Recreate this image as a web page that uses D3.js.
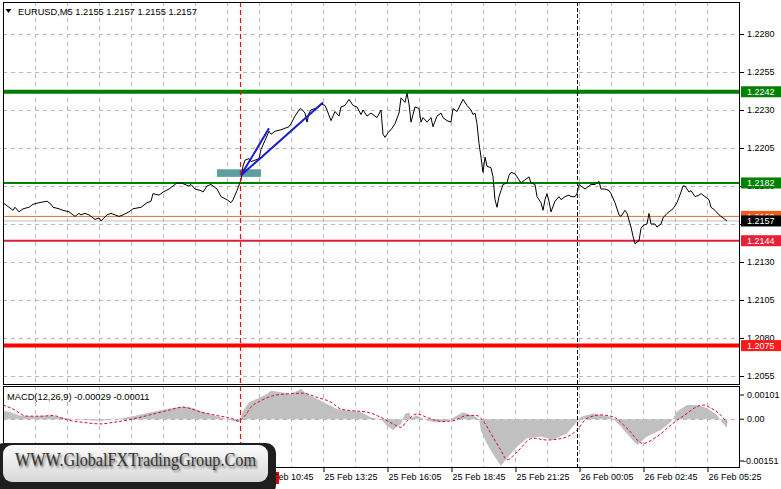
<!DOCTYPE html>
<html><head><meta charset="utf-8">
<script src="https://cdn.jsdelivr.net/npm/d3@7"></script>
<style>
body{margin:0;background:#fff}
svg{display:block}
</style>
</head><body>
<svg id="c" width="781" height="489"></svg>
<script>
// ---------------- DATA ----------------
const symbolTitle = "EURUSD,M5  1.2155 1.2157 1.2155 1.2157";
const macdTitle = "MACD(12,26,9) -0.00029 -0.00011";
const watermarkText = "WWW.GlobalFXTradingGroup.Com";

// times are minutes since 25 Feb 00:00 (M5 bars)
const priceTimes = [5,30,35,45,55,70,80,95,115,125,130,145,155,170,175,185,195,200,210,220,235,245,250,265,275,285,295,305,320,330,350,365,375,380,395,405,420,430,440,450,460,470,475,485,500,505,515,525,530,540,550,565,575,580,590,600,605,610,620,625,635,645,650,660,670,675,685,700,710,720,725,735,745,750,760,765,770,775,785,795,800,810,815,825,835,845,850,860,870,880,890,900,905,915,925,930,940,950,955,960,970,975,985,995,1000,1010,1015,1020,1025,1035,1045,1050,1055,1065,1075,1080,1090,1100,1105,1115,1125,1130,1140,1155,1165,1175,1180,1185,1190,1195,1200,1205,1210,1215,1225,1230,1235,1240,1245,1250,1255,1265,1270,1275,1285,1295,1300,1305,1315,1320,1325,1335,1340,1350,1355,1360,1365,1370,1375,1385,1395,1400,1410,1420,1425,1435,1440,1445,1450,1460,1470,1475,1485,1495,1500,1510,1520,1525,1535,1545,1550,1560,1565,1575,1580,1585,1595,1600,1605,1615,1620,1625,1635,1640,1650,1655,1665,1675,1680,1690,1700,1705,1710,1720,1725,1735,1745,1750,1760,1770,1775,1785,1795,1800,1815];
const priceValues = [1.2169,1.2164,1.2166,1.2163,1.2165,1.2166,1.2168,1.2169,1.2170,1.2168,1.2166,1.2165,1.2164,1.2163,1.2162,1.2160,1.2162,1.2161,1.2162,1.2161,1.2158,1.2159,1.2157,1.2161,1.2162,1.2161,1.2160,1.2161,1.2163,1.2165,1.2166,1.2169,1.2170,1.2175,1.2174,1.2176,1.2178,1.2180,1.2182,1.2182,1.2181,1.2180,1.2181,1.2178,1.2177,1.2176,1.2180,1.2181,1.2180,1.2178,1.2173,1.2171,1.2169,1.2171,1.2177,1.2184,1.2193,1.2197,1.2198,1.2196,1.2197,1.2198,1.2204,1.2210,1.2216,1.2214,1.2216,1.2217,1.2218,1.2219,1.2221,1.2226,1.2230,1.2231,1.2228,1.2222,1.2228,1.2230,1.2231,1.2232,1.2234,1.2233,1.2230,1.2223,1.2229,1.2226,1.2232,1.2233,1.2237,1.2233,1.2232,1.2227,1.2230,1.2226,1.2228,1.2227,1.2225,1.2230,1.2214,1.2212,1.2216,1.2217,1.2221,1.2228,1.2238,1.2235,1.2241,1.2234,1.2222,1.2232,1.2231,1.2222,1.2225,1.2222,1.2225,1.2219,1.2226,1.2228,1.2225,1.2223,1.2222,1.2231,1.2229,1.2237,1.2233,1.2230,1.2227,1.2228,1.2221,1.2208,1.2199,1.2189,1.2199,1.2193,1.2192,1.2186,1.2171,1.2166,1.2173,1.2177,1.2181,1.2182,1.2187,1.2189,1.2188,1.2184,1.2182,1.2183,1.2185,1.2186,1.2182,1.2181,1.2173,1.2169,1.2164,1.2171,1.2175,1.2170,1.2163,1.2170,1.2173,1.2171,1.2173,1.2174,1.2173,1.2173,1.2175,1.2181,1.2180,1.2178,1.2180,1.2181,1.2181,1.2183,1.2178,1.2178,1.2177,1.2175,1.2169,1.2161,1.2160,1.2164,1.2162,1.2153,1.2147,1.2142,1.2144,1.2152,1.2154,1.2155,1.2162,1.2155,1.2155,1.2153,1.2155,1.2159,1.2162,1.2164,1.2165,1.2169,1.2176,1.2180,1.2180,1.2176,1.2177,1.2173,1.2174,1.2175,1.2173,1.2171,1.2166,1.2164,1.2161,1.2160,1.2157];

const histTimes = [5,25,45,80,125,165,205,250,290,330,375,415,455,480,515,550,580,595,605,620,640,665,675,700,725,750,765,790,815,840,865,900,925,950,965,980,1000,1010,1020,1025,1040,1065,1090,1115,1140,1155,1180,1195,1200,1215,1230,1245,1250,1265,1290,1315,1350,1380,1415,1440,1450,1480,1500,1525,1550,1575,1590,1615,1650,1675,1690,1715,1740,1765,1790,1805,1815];
const histValues = [0.00028,0.00023,0.00012,0.00010,0.00012,0.00003,-0.00002,-0.00005,0.00001,0.00010,0.00023,0.00033,0.00041,0.00036,0.00019,0.00006,-0.00005,-0.00010,0.00027,0.00055,0.00066,0.00082,0.00092,0.00087,0.00082,0.00098,0.00082,0.00066,0.00049,0.00033,0.00028,0.00023,0.00006,0.00000,-0.00021,-0.00035,-0.00015,0.00017,0.00023,0.00006,0.00012,-0.00005,-0.00010,-0.00007,0.00012,0.00023,0.00012,0.00001,-0.00037,-0.00080,-0.00112,-0.00142,-0.00150,-0.00126,-0.00089,-0.00061,-0.00056,-0.00067,-0.00045,-0.00008,0.00008,0.00019,0.00014,0.00008,-0.00024,-0.00061,-0.00083,-0.00056,-0.00035,-0.00008,0.00025,0.00046,0.00046,0.00036,0.00014,-0.00013,-0.00029];

const signalTimes = [5,30,65,100,130,165,205,250,280,330,375,415,455,500,540,580,595,610,625,650,680,715,755,790,825,850,875,915,950,980,1000,1015,1040,1065,1100,1130,1165,1190,1205,1230,1250,1265,1290,1330,1365,1405,1440,1465,1500,1530,1565,1605,1640,1680,1715,1740,1755,1775,1795,1815];
const signalValues = [0.00046,0.00033,0.00010,0.00010,0.00012,-0.00002,-0.00010,-0.00015,-0.00010,0.00001,0.00015,0.00028,0.00039,0.00023,0.00012,0.00001,-0.00006,0.00012,0.00039,0.00060,0.00076,0.00082,0.00084,0.00071,0.00055,0.00033,0.00028,0.00023,0.00006,-0.00015,-0.00026,-0.00005,0.00017,0.00006,-0.00007,-0.00005,0.00012,0.00012,-0.00005,-0.00058,-0.00101,-0.00131,-0.00105,-0.00061,-0.00067,-0.00061,-0.00035,0.00003,0.00014,0.00008,-0.00029,-0.00078,-0.00056,-0.00013,0.00019,0.00041,0.00046,0.00036,0.00019,-0.00011];

const priceTicks = [1.2055,1.2080,1.2105,1.2130,1.2155,1.2180,1.2205,1.2230,1.2255,1.2280];
const priceTickLabels = ["1.2055","1.2080","1.2105","1.2130","","1.2180","1.2205","1.2230","1.2255","1.2280"];
const macdTicks = [0.00101,0,-0.00151];
const macdTickLabels = ["0.00101","0.00","-0.00151"];
const timeTicks = [645,805,965,1125,1285,1445,1605,1765];
const timeTickLabels = ["25 Feb 10:45","25 Feb 13:25","25 Feb 16:05","25 Feb 18:45","25 Feb 21:25","26 Feb 00:05","26 Feb 02:45","26 Feb 05:25"];

const levelValues = [1.2242,1.2182,1.2160,1.2157,1.2144,1.2075];
const levelLabels = ["1.2242","1.2182","1.2160","1.2157","1.2144","1.2075"];

const zoneTimes = [540,650];      // rectangle object
const zonePrices = [1.2186,1.2191];
const arrowTimes = [670,600,805]; // blue trend lines
const arrowPrices = [1.2218,1.2187,1.2235];
const redLineTime = 600;          // 25 Feb 10:00
const daySepTime = 1440;          // 26 Feb 00:00

// ---------------- STYLES ----------------
const levelColors = ["#008000","#008000","#ee6a22","#bcbccc","#d4203a","#ff0000"];
const levelWidths = [4,2,1,1,2,4];
const boxColors = ["#008000","#008000","#f05a1e","#000000","#e8203a","#ff1a1a"];
const SANS = "'Liberation Sans', Arial, sans-serif";
const SERIF = "'Liberation Serif', 'Times New Roman', serif";

// ---------------- DRAW ----------------
const svg = d3.select("#c");
const L = 3, R = 740, mainTop = 2, mainBot = 384, macdTop = 386, macdBot = 468;
const x = d3.scaleLinear().domain([5,1845]).range([3,739]);
const y = d3.scaleLinear().domain([1.2055,1.2280]).range([376,34]);
const ym = d3.scaleLinear().domain([-0.00151,0.00101]).range([466,388]);

const defs = svg.append("defs");
defs.append("clipPath").attr("id","cm").append("rect").attr("x",L).attr("y",mainTop).attr("width",R-L).attr("height",mainBot-mainTop);
defs.append("clipPath").attr("id","cd").append("rect").attr("x",L).attr("y",macdTop).attr("width",R-L).attr("height",macdBot-macdTop);
const grad = defs.append("linearGradient").attr("id","wg").attr("x1",0).attr("y1",0).attr("x2",0).attr("y2",1);
grad.append("stop").attr("offset","0%").attr("stop-color","#fbfbfb");
grad.append("stop").attr("offset","100%").attr("stop-color","#d8d8d8");
const blur = defs.append("filter").attr("id","tb").attr("x","-5%").attr("y","-30%").attr("width","110%").attr("height","160%");
blur.append("feGaussianBlur").attr("stdDeviation",1.3);

const gridColor = "#b8b8b8", gridDash = "4,4";
const vGrid = d3.range(85, 1845, 80);

// main panel
const gm = svg.append("g").attr("clip-path","url(#cm)");
gm.selectAll(".vg").data(vGrid).join("line")
  .attr("x1",d=>x(d)+0.5).attr("x2",d=>x(d)+0.5).attr("y1",mainTop).attr("y2",mainBot)
  .attr("stroke",gridColor).attr("stroke-dasharray",gridDash);
gm.selectAll(".hg").data(priceTicks).join("line")
  .attr("x1",L).attr("x2",R).attr("y1",d=>Math.round(y(d))+0.5).attr("y2",d=>Math.round(y(d))+0.5)
  .attr("stroke",gridColor).attr("stroke-dasharray",gridDash);

// macd panel grid
const gd = svg.append("g").attr("clip-path","url(#cd)");
gd.selectAll(".vg").data(vGrid).join("line")
  .attr("x1",d=>x(d)+0.5).attr("x2",d=>x(d)+0.5).attr("y1",macdTop).attr("y2",macdBot)
  .attr("stroke",gridColor).attr("stroke-dasharray",gridDash);

// histogram
const hist = histTimes.map((t,i)=>[t,histValues[i]]);
gd.append("path").datum(hist)
  .attr("d", d3.area().x(d=>x(d[0])).y0(ym(0)).y1(d=>ym(d[1])))
  .attr("fill","#c0c0c0");
gd.append("line").attr("x1",L).attr("x2",R).attr("y1",Math.round(ym(0))+0.5).attr("y2",Math.round(ym(0))+0.5)
  .attr("stroke",gridColor).attr("stroke-dasharray",gridDash);
const sig = signalTimes.map((t,i)=>[t,signalValues[i]]);
gd.append("path").datum(sig)
  .attr("d", d3.line().x(d=>x(d[0])).y(d=>ym(d[1])).curve(d3.curveMonotoneX))
  .attr("fill","none").attr("stroke","#d0102a").attr("stroke-width",1).attr("stroke-dasharray","3,2");

// horizontal level lines
gm.selectAll(".lvl").data(levelValues).join("line")
  .attr("x1",L).attr("x2",R).attr("y1",d=>y(d)).attr("y2",d=>y(d))
  .attr("stroke",(d,i)=>levelColors[i]).attr("stroke-width",(d,i)=>levelWidths[i]);

// zone rectangle
gm.append("rect")
  .attr("x",x(zoneTimes[0])).attr("width",x(zoneTimes[1])-x(zoneTimes[0]))
  .attr("y",y(zonePrices[1])).attr("height",y(zonePrices[0])-y(zonePrices[1]))
  .attr("fill","#5f9ea0");

// vertical lines
svg.append("line").attr("x1",Math.round(x(redLineTime))-0.5).attr("x2",Math.round(x(redLineTime))-0.5)
  .attr("y1",mainTop).attr("y2",macdBot).attr("stroke","#ff0000").attr("stroke-width",1.2).attr("stroke-dasharray","5,3");
svg.append("line").attr("x1",Math.round(x(daySepTime))+0.5).attr("x2",Math.round(x(daySepTime))+0.5)
  .attr("y1",mainTop).attr("y2",macdBot).attr("stroke","#000").attr("stroke-dasharray","4,2");

// price line
const price = priceTimes.map((t,i)=>[t,priceValues[i]]);
gm.append("path").datum(price)
  .attr("d", d3.line().x(d=>x(d[0])).y(d=>y(d[1])))
  .attr("fill","none").attr("stroke","#000").attr("stroke-width",1);

// blue trend lines
[[1,0],[1,2]].forEach(([a,b])=>{
  gm.append("line").attr("x1",x(arrowTimes[a])).attr("y1",y(arrowPrices[a]))
    .attr("x2",x(arrowTimes[b])).attr("y2",y(arrowPrices[b]))
    .attr("stroke","#1a1ad2").attr("stroke-width",2);
});

// frames
svg.append("rect").attr("x",L+0.5).attr("y",mainTop+0.5).attr("width",R-L-1).attr("height",mainBot-mainTop)
  .attr("fill","none").attr("stroke","#000");
svg.append("rect").attr("x",L+0.5).attr("y",macdTop+0.5).attr("width",R-L-1).attr("height",macdBot-macdTop-1)
  .attr("fill","none").attr("stroke","#000");

// price axis
const ay = svg.append("g").attr("transform",`translate(${R},0)`)
  .call(d3.axisRight(y).tickValues(priceTicks).tickSize(4).tickFormat((d,i)=>priceTickLabels[i]));
ay.select(".domain").remove();
ay.selectAll("text").style("font-size","9px").style("font-family",SANS).attr("fill","#000");

// macd axis
const am = svg.append("g").attr("transform",`translate(${R},0)`)
  .call(d3.axisRight(ym).tickValues(macdTicks).tickSize(4).tickFormat((d,i)=>macdTickLabels[i]));
am.select(".domain").remove();
am.selectAll(".tick").attr("transform",d=>`translate(0,${ym(d) + (d>0?7:(d<0?-5:0))})`);
am.selectAll("text").style("font-size","9px").style("font-family",SANS).attr("fill","#000")
  .attr("x",d=>d<0?3:7);

// level label boxes
const lb = svg.append("g");
levelValues.forEach((v,i)=>{
  lb.append("rect").attr("x",R+1).attr("y",y(v)-5.5).attr("width",40).attr("height",11).attr("fill",boxColors[i]);
  lb.append("text").attr("x",R+7).attr("y",y(v)+3.3).style("font-size","9px").style("font-family",SANS)
    .attr("fill","#fff").text(levelLabels[i]);
});

// vertical-line time marker (mostly hidden by watermark)
svg.append("rect").attr("x",x(redLineTime)).attr("y",472).attr("width",38).attr("height",12).attr("fill","#e00000");

// time axis
const ax = svg.append("g").attr("transform",`translate(0,${macdBot})`)
  .call(d3.axisBottom(x).tickValues(timeTicks).tickSize(4).tickFormat((d,i)=>timeTickLabels[i]));
ax.select(".domain").remove();
ax.selectAll(".tick line").attr("transform","translate(0.5,0)");
ax.selectAll("text").style("font-size","9px").style("font-family",SANS)
  .attr("text-anchor","start").attr("dx",1).attr("y",6).attr("dy","0.71em").attr("fill","#000");

// titles
svg.append("path").attr("d","M5.5,9 L11.5,9 L8.5,13 Z").attr("fill","#000");
svg.append("text").attr("x",18).attr("y",14.5).style("font-size","9.3px").style("font-family",SANS).attr("fill","#000").text(symbolTitle);
svg.append("text").attr("x",7).attr("y",400).style("font-size","9.3px").style("font-family",SANS).attr("fill","#000").text(macdTitle);

// watermark
const wm = svg.append("g");
wm.append("rect").attr("x",-6).attr("y",443).attr("width",282).attr("height",52).attr("rx",10).attr("fill","#1e1e1e");
wm.append("rect").attr("x",3).attr("y",445).attr("width",265).attr("height",37).attr("rx",9).attr("fill","url(#wg)");
wm.append("text").attr("x",16.5).attr("y",467.5)
  .style("font-size","19px").style("font-family",SERIF)
  .attr("textLength",241).attr("lengthAdjust","spacingAndGlyphs")
  .attr("fill","#666").attr("filter","url(#tb)").text(watermarkText);
wm.append("text").attr("x",15).attr("y",466)
  .style("font-size","19px").style("font-family",SERIF)
  .attr("textLength",241).attr("lengthAdjust","spacingAndGlyphs")
  .attr("fill","#333").text(watermarkText);
</script>
</body></html>
